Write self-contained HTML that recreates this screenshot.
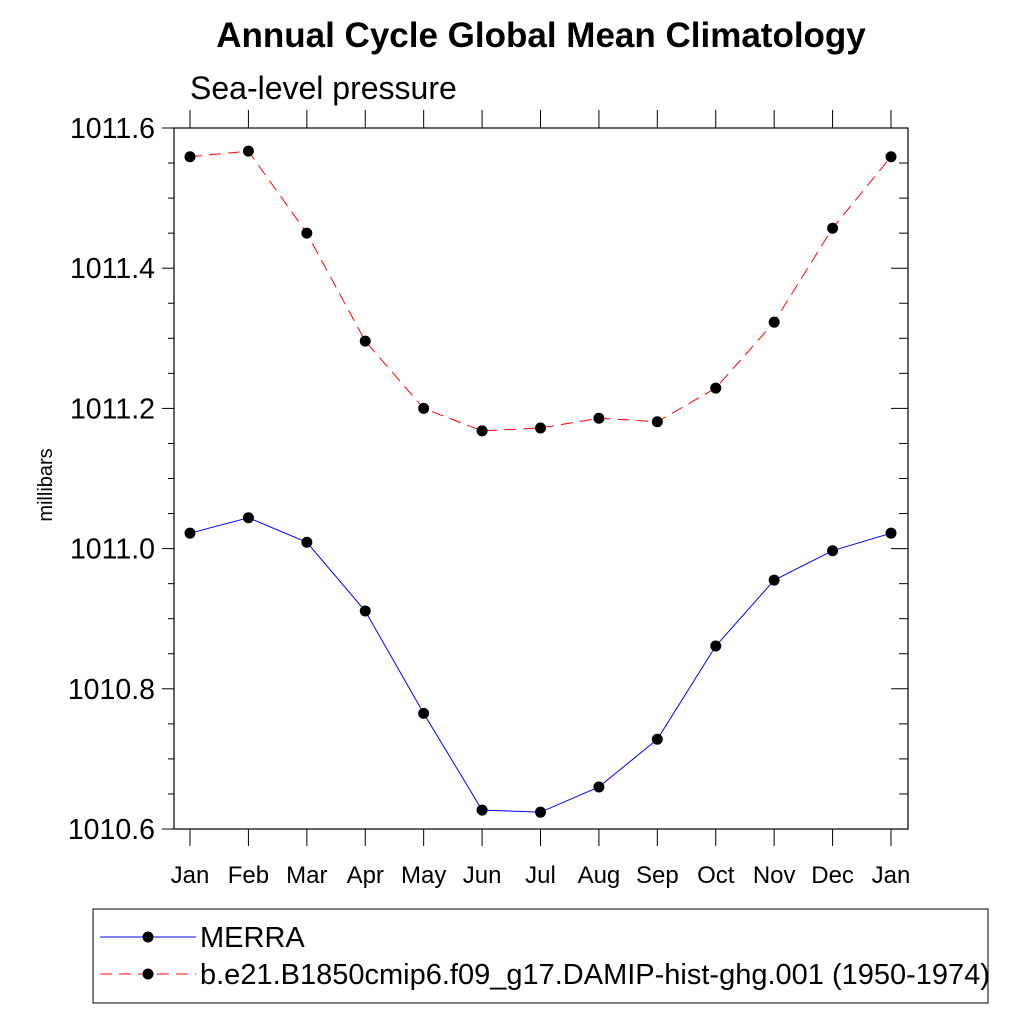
<!DOCTYPE html>
<html><head><meta charset="utf-8"><style>
body{margin:0;background:#fff;}
svg{display:block;font-family:"Liberation Sans",sans-serif;}
</style></head><body>
<svg id="c" width="1024" height="1024">
<text x="541" y="47" text-anchor="middle" font-size="35" font-weight="bold">Annual Cycle Global Mean Climatology</text>
<text x="190" y="99" font-size="32">Sea-level pressure</text>
<text transform="translate(52,485) rotate(-90)" text-anchor="middle" font-size="20">millibars</text>
<rect x="174" y="128" width="734" height="701" fill="none" stroke="#000" stroke-width="1.2"/>
<g id="ax"></g><g id="series"></g>
<rect x="93" y="909" width="895" height="94" fill="none" stroke="#000" stroke-width="1"/>
<g>
<line x1="100" y1="937" x2="196" y2="937" stroke="#00f" stroke-width="1"/><circle cx="148" cy="937" r="5.5"/>
<text x="200" y="947" font-size="29">MERRA</text></g>
<g>
<line x1="100" y1="974" x2="196" y2="974" stroke="#f00" stroke-width="1" stroke-dasharray="12,7"/><circle cx="148" cy="974" r="5.5"/>
<text x="200" y="984" font-size="29">b.e21.B1850cmip6.f09_g17.DAMIP-hist-ghg.001 (1950-1974)</text></g>
</svg>
<script>
const months=["Jan","Feb","Mar","Apr","May","Jun","Jul","Aug","Sep","Oct","Nov","Dec","Jan"];
const merra=[1011.022,1011.044,1011.009,1010.911,1010.765,1010.627,1010.624,1010.660,1010.728,1010.861,1010.955,1010.997,1011.022];
const model=[1011.559,1011.567,1011.450,1011.296,1011.200,1011.168,1011.172,1011.186,1011.181,1011.229,1011.323,1011.457,1011.559];
const yTicks=[1010.6,1010.8,1011.0,1011.2,1011.4,1011.6];
const NS="http://www.w3.org/2000/svg";
const X=i=>190+i*(891-190)/12;
const Y=v=>829-(v-1010.6)*701;
function mk(t,a,p){const e=document.createElementNS(NS,t);for(const k in a)e.setAttribute(k,a[k]);p.appendChild(e);return e;}
const ax=document.getElementById('ax'),se=document.getElementById('series');
for(let v=1010.6;v<=1011.6001;v+=0.05){const y=Y(v);
 const maj=Math.abs(Math.round(v*5)-v*5)<1e-6;
 const t=mk('line',{x1:maj?162:168,x2:174,y1:y,y2:y,stroke:'#000'},ax);
 
 const r=mk('line',{x1:maj?891:899,x2:908,y1:y,y2:y,stroke:'#000'},ax);
 }
yTicks.forEach(v=>{const t=mk('text',{x:155,y:Y(v)+10,'text-anchor':'end','font-size':28.5},ax);t.textContent=v.toFixed(1);
 });
months.forEach((m,i)=>{const x=X(i);
 const a=mk('line',{x1:x,x2:x,y1:110,y2:128,stroke:'#000'},ax);
 const b=mk('line',{x1:x,x2:x,y1:829,y2:846,stroke:'#000'},ax);
 const t=mk('text',{x:x,y:883,'text-anchor':'middle','font-size':24},ax);t.textContent=m;
 });
function series(d,col,dash,name){
 const p=mk('polyline',{points:d.map((v,i)=>X(i)+','+Y(v)).join(' '),fill:'none',stroke:col,'stroke-width':1,'stroke-dasharray':dash},se);
 
 d.forEach((v,i)=>{const c=mk('circle',{cx:X(i),cy:Y(v),r:5.5},se);
  });}
series(merra,'#00f','none','merra');
series(model,'#f00','12,7','model');
</script>
</body></html>
